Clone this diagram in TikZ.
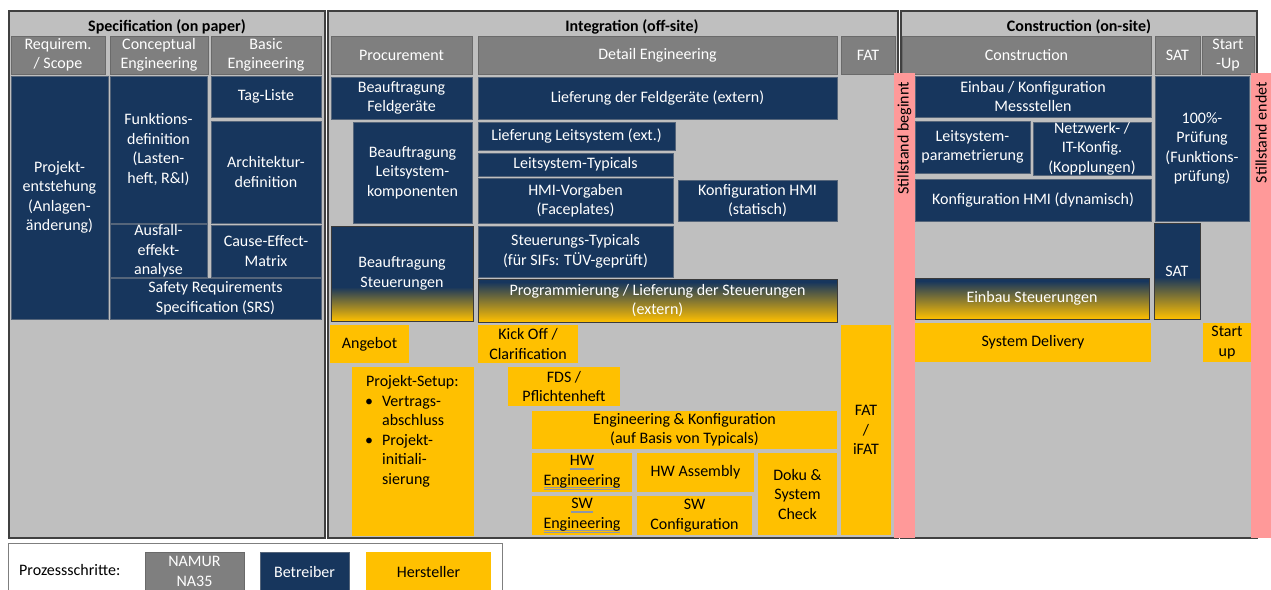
\documentclass[tikz,border=0pt]{standalone}
\usepackage{fontspec}
\setmainfont{Carlito}

\definecolor{bggray}{HTML}{BFBFBF}
\definecolor{hdrgray}{HTML}{7F7F7F}
\definecolor{hdrline}{HTML}{6A6A6A}
\definecolor{navy}{HTML}{17365D}
\definecolor{navyline}{HTML}{55657A}
\definecolor{amber}{HTML}{FFC000}
\definecolor{olivemid}{HTML}{6C6646}
\definecolor{pinkbar}{HTML}{FF9999}
\definecolor{frameline}{HTML}{404040}
\definecolor{gradline}{HTML}{3A3A3A}
\definecolor{squig}{HTML}{8E96A8}

\newcommand\fs{\fontsize{16}{19.5}\selectfont}

% box from (x1,y1) to (x2,y2): name, x1, y1, x2, y2, style, text
\newcommand\mkbox[7]{%
  \node[#6, minimum width={(#4-#2)*1pt}, minimum height={(#5-#3)*1pt}]
    (#1) at ({(#2+#4)/2},{(#3+#5)/2}) {#7};}

% navy box fading to amber below y = #6: name, x1, y1, x2, y2, fade start, text
\newcommand\mkfade[7]{%
  \fill[navy] (#2,#3) rectangle (#4,#5);
  \shade[top color=navy, middle color=olivemid, bottom color=amber]
    (#2,#6) rectangle (#4,#5);
  \mkbox{#1}{#2}{#3}{#4}{#5}{fadebox}{#7}}

% double grey underline as left by a spell checker
\newcommand\squig[1]{\setbox0\hbox{#1}%
  \rlap{\color{squig}\rule[-2.6pt]{\wd0}{0.6pt}}%
  \rlap{\color{squig}\rule[-4.2pt]{\wd0}{0.6pt}}\box0}

\tikzset{
  box/.style={rectangle, inner sep=0pt, outer sep=0pt, align=center, font=\fs},
  framebox/.style={box, fill=bggray, draw=frameline, line width=1.3pt},
  title/.style={font=\fs\bfseries, inner sep=0pt},
  hdr/.style={box, fill=hdrgray, draw=hdrline, line width=1pt, text=white},
  op/.style={box, fill=navy, draw=navyline, line width=0.7pt, text=white},
  mf/.style={box, fill=amber, text=black},
  fadebox/.style={box, draw=gradline, line width=0.8pt, text=white},
  pinkstrip/.style={box, fill=pinkbar},
  stripnote/.style={font=\fs, rotate=90, anchor=east, inner sep=0pt},
  legendframe/.style={box, fill=white, draw=hdrgray, line width=1pt}
}

\begin{document}
\begin{tikzpicture}[x=1pt, y=-1pt]
\useasboundingbox (0,0) rectangle (1271,589);
\clip (0,0) rectangle (1271,589);
\fill[white] (0,0) rectangle (1271,589);

% phase frames
\mkbox{specF}{9}{11}{325}{538}{framebox}{}
\mkbox{intF}{328}{11}{898}{538}{framebox}{}
\mkbox{conF}{901}{11}{1257}{538}{framebox}{}
\node[title] (specT) at (167,27) {Specification (on paper)};
\node[title] (intT) at (632,27) {Integration (off-site)};
\node[title] (conT) at (1079,27) {Construction (on-site)};

% NAMUR phase headers
\mkbox{hReq}{11}{36}{105}{74}{hdr}{Requirem.\\/ Scope}
\mkbox{hCon}{110}{36}{208}{74}{hdr}{Conceptual\\Engineering}
\mkbox{hBas}{211}{36}{321}{74}{hdr}{Basic\\Engineering}
\mkbox{hPro}{331}{36}{472}{74}{hdr}{Procurement}
\mkbox{hDet}{478}{36}{837}{74}{hdr}{Detail Engineering}
\mkbox{hFat}{841}{36}{895}{74}{hdr}{FAT}
\mkbox{hCst}{902}{36}{1151}{74}{hdr}{Construction}
\mkbox{hSat}{1155}{36}{1200}{74}{hdr}{SAT}
\mkbox{hSup}{1202}{36}{1254}{74}{hdr}{Start\\-Up}

% operator steps: specification
\mkbox{projekt}{11}{76}{108}{319}{op}{Projekt-\\entstehung\\(Anlagen-\\änderung)}
\mkbox{funktion}{110}{76}{207}{223}{op}{Funktions-\\definition\\(Lasten-\\heft, R\&I)}
\mkbox{tagliste}{211}{76}{321}{117}{op}{Tag-Liste}
\mkbox{architektur}{211}{121}{321}{223}{op}{Architektur-\\definition}
\mkbox{ausfall}{110}{225}{207}{277}{op}{Ausfall-\\effekt-\\analyse}
\mkbox{cause}{211}{225}{321}{277}{op}{Cause-Effect-\\Matrix}
\mkbox{srs}{110}{278}{321}{319}{op}{Safety Requirements\\Specification (SRS)}

% operator steps: integration
\mkbox{bFeld}{331}{77}{472}{119}{op}{Beauftragung\\Feldgeräte}
\mkbox{lFeld}{478}{77}{837}{119}{op}{Lieferung der Feldgeräte (extern)}
\mkbox{bLeit}{353}{122}{472}{223}{op}{Beauftragung\\Leitsystem-\\komponenten}
\mkbox{lLeit}{478}{122}{675}{150}{op}{Lieferung Leitsystem (ext.)}
\mkbox{lTyp}{478}{153}{673}{176}{op}{Leitsystem-Typicals}
\mkbox{hmiV}{478}{178}{673}{223}{op}{HMI-Vorgaben\\(Faceplates)}
\mkbox{hmiS}{678}{180}{837}{221}{op}{Konfiguration HMI\\(statisch)}
\mkbox{stTyp}{478}{226}{673}{277}{op}{Steuerungs-Typicals\\(für SIFs: TÜV-geprüft)}
\mkfade{bSteu}{331}{226}{473}{321}{287}{Beauftragung\\Steuerungen}
\mkfade{prog}{478}{279}{837}{322}{282}{Programmierung / Lieferung der Steuerungen\\(extern)}

% operator steps: construction
\mkbox{einbauM}{915}{76}{1151}{117}{op}{Einbau / Konfiguration\\Messstellen}
\mkbox{leitPar}{915}{121}{1030}{173}{op}{Leitsystem-\\parametrierung}
\mkbox{netz}{1033}{122}{1151}{175}{op}{Netzwerk- /\\IT-Konfig.\\(Kopplungen)}
\mkbox{hmiD}{915}{179}{1151}{221}{op}{Konfiguration HMI (dynamisch)}
\mkbox{pruef}{1155}{76}{1249}{221}{op}{100\%-\\Prüfung\\(Funktions-\\prüfung)}
\mkfade{satB}{1154}{223}{1200}{319}{277}{SAT}
\mkfade{einbauS}{915}{278}{1149}{319}{281}{Einbau Steuerungen}

% manufacturer steps
\mkbox{angebot}{330}{325}{409}{363}{mf}{Angebot}
\mkbox{setup}{352}{367}{474}{536}{mf}{}
\node[anchor=north west, inner sep=0pt, font=\fs] (setupT) at (365,373)
  {\begin{tabular}{@{}p{17pt}@{}l@{}}
   \multicolumn{2}{@{}l@{}}{\hspace{1pt}Projekt-Setup:}\\
   \textbullet & Vertrags-\\
               & abschluss\\
   \textbullet & Projekt-\\
               & initiali-\\
               & sierung
   \end{tabular}};
\mkbox{kick}{478}{325}{578}{363}{mf}{Kick Off /\\Clarification}
\mkbox{fds}{508}{367}{620}{406}{mf}{FDS /\\Pflichtenheft}
\mkbox{engk}{532}{411}{837}{449}{mf}{Engineering \& Konfiguration\\(auf Basis von Typicals)}
\mkbox{hwE}{532}{453}{632}{492}{mf}{\squig{HW}\\\squig{Engineering}}
\mkbox{hwA}{637}{453}{754}{492}{mf}{HW Assembly}
\mkbox{swE}{532}{496}{632}{535}{mf}{\squig{SW}\\\squig{Engineering}}
\mkbox{swC}{637}{496}{752}{535}{mf}{SW\\Configuration}
\mkbox{doku}{758}{453}{837}{535}{mf}{Doku \&\\System\\Check}
\mkbox{fatI}{841}{325}{891}{535}{mf}{FAT\\/\\iFAT}
\mkbox{sysD}{915}{323}{1151}{362}{mf}{System Delivery}
\mkbox{stUp}{1203}{323}{1251}{362}{mf}{Start\\up}

% shutdown markers
\mkbox{stopA}{894}{73}{915}{538}{pinkstrip}{}
\mkbox{stopB}{1251}{73}{1271}{538}{pinkstrip}{}
\node[stripnote] (stopAT) at (904.5,82) {Stillstand beginnt};
\node[stripnote] (stopBT) at (1261,82) {Stillstand endet};

% legend
\mkbox{leg}{8}{543}{502}{600}{legendframe}{}
\node[font=\fs, anchor=west, inner sep=0pt] (legT) at (19,570) {Prozessschritte:};
\mkbox{legN}{145}{552}{244}{591}{hdr}{NAMUR\\NA35}
\mkbox{legB}{260}{552}{349}{591}{op}{Betreiber}
\mkbox{legH}{366}{552}{491}{591}{mf}{Hersteller}
\end{tikzpicture}
\end{document}
